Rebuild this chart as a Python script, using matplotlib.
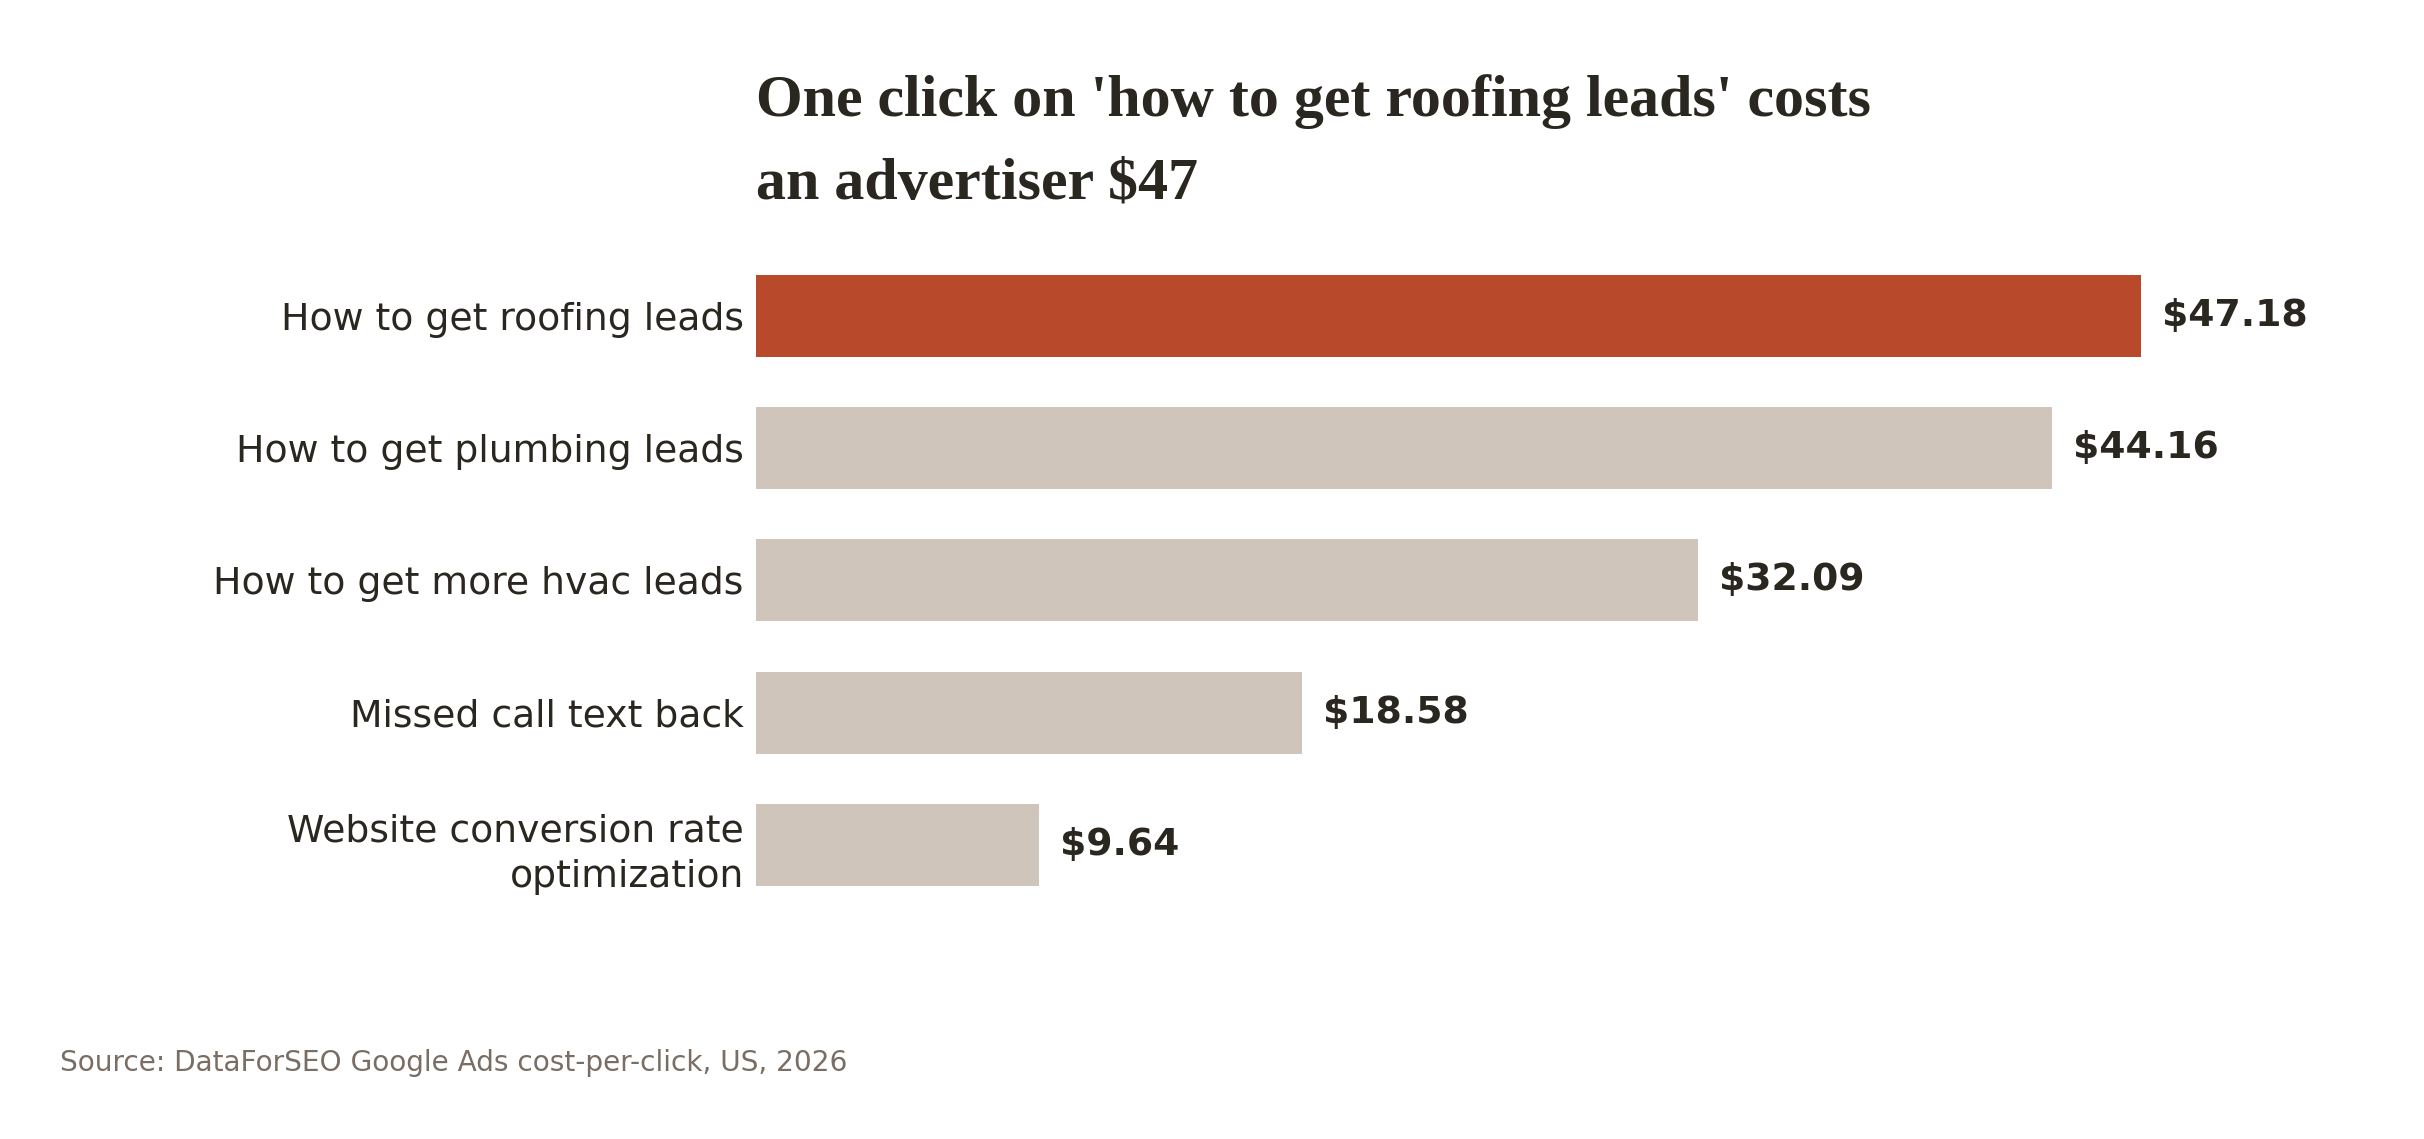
import matplotlib
matplotlib.use("Agg")
import matplotlib.pyplot as plt

# data
keywords = [
    "How to get roofing leads",
    "How to get plumbing leads",
    "How to get more hvac leads",
    "Missed call text back",
    "Website conversion rate\noptimization",
]
cpc = [47.18, 44.16, 32.09, 18.58, 9.64]
value_labels = ["$47.18", "$44.16", "$32.09", "$18.58", "$9.64"]

title_lines = [
    "One click on 'how to get roofing leads' costs",
    "an advertiser $47",
]
source_note = "Source: DataForSEO Google Ads cost-per-click, US, 2026"

HIGHLIGHT = "#B8492B"
MUTED = "#D0C5BA"
INK = "#2A2620"
GREY = "#7A6E64"

fig = plt.figure(figsize=(12.12, 5.695), dpi=200)
ax = fig.add_axes([0.312, 0.200, 0.638, 0.581])

colors = [HIGHLIGHT] + [MUTED] * (len(cpc) - 1)
ypos = list(range(len(cpc)))
ax.barh(ypos, cpc, height=0.62, color=colors)

for y, v, lab in zip(ypos, cpc, value_labels):
    ax.annotate(lab, (v, y), xytext=(7.6, 0), textcoords="offset points",
                va="center", ha="left", fontsize=13.6, fontweight="bold",
                color=INK)

ax.set_xlim(0, 52.7)
ax.set_ylim(len(cpc) - 0.5, -0.5)
ax.set_yticks(ypos)
ax.set_yticklabels(keywords, fontsize=13.6, color=INK, linespacing=1.35)
ax.tick_params(axis="y", length=0, pad=4.5)
ax.set_xticks([])
for s in ax.spines.values():
    s.set_visible(False)

fig.text(0.312, 0.898, title_lines[0], fontsize=21.6, fontweight="bold",
         family="Liberation Serif", color=INK, va="baseline")
fig.text(0.312, 0.826, title_lines[1], fontsize=21.6, fontweight="bold",
         family="Liberation Serif", color=INK, va="baseline")
fig.text(0.0248, 0.060, source_note, fontsize=10.1, color=GREY, va="baseline")

fig.savefig("out.png", dpi=200, facecolor="white")
